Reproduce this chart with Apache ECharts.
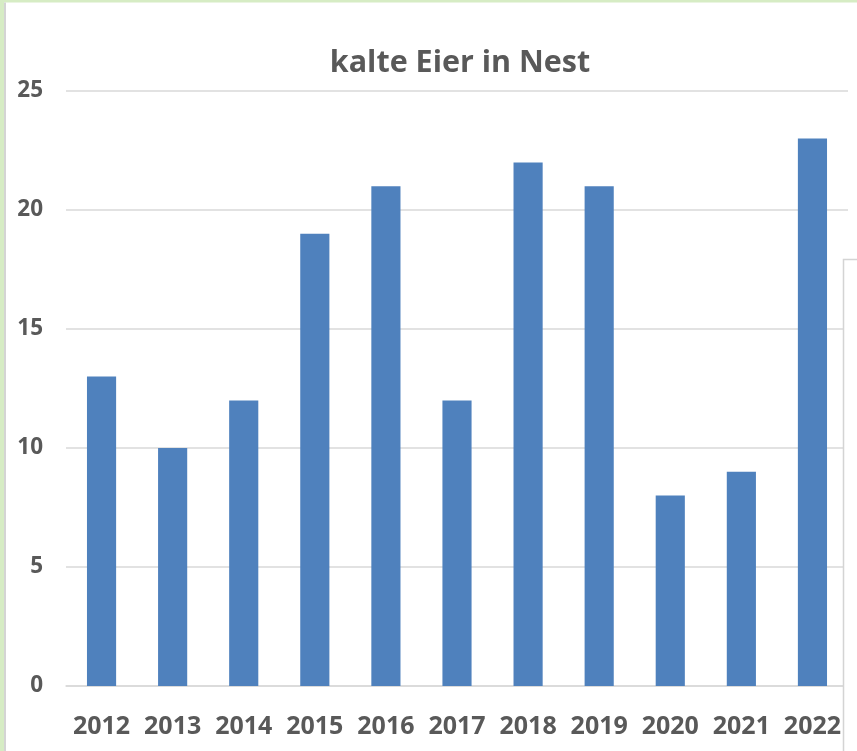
<!DOCTYPE html>
<html>
<head>
<meta charset="utf-8">
<script src="https://cdn.jsdelivr.net/npm/echarts@6/dist/echarts.min.js"></script>
<style>
  html, body { margin: 0; padding: 0; background: #fff; }
  #chart { width: 857px; height: 751px; }
</style>
</head>
<body>
<div id="chart"></div>
<script>
const years = ["2012", "2013", "2014", "2015", "2016", "2017", "2018", "2019", "2020", "2021", "2022"];
const coldEggs = [13, 10, 12, 19, 21, 12, 22, 21, 8, 9, 23];
const yTicks = [0, 5, 10, 15, 20, 25];

const chart = echarts.init(document.getElementById("chart"));
const textColor = "#595959";
const lineColor = "#d9d9d9";

chart.setOption({
  backgroundColor: "#ffffff",
  animation: false,
  title: {
    text: "kalte Eier in Nest",
    left: 455,
    textAlign: "center",
    top: 43,
    textStyle: { fontFamily: "Open Sans", fontWeight: "bold", fontSize: 30.5, color: textColor }
  },
  grid: { left: 66, right: 9, top: 91, bottom: 65 },
  xAxis: {
    type: "category",
    data: years,
    axisLine: { lineStyle: { color: lineColor, width: 1.5 } },
    axisTick: { length: 8, lineStyle: { color: lineColor, width: 1.5 } },
    axisLabel: {
      interval: 0,
      hideOverlap: false,
      margin: 28,
      color: textColor,
      fontFamily: "Open Sans",
      fontWeight: "bold",
      fontSize: 25
    }
  },
  yAxis: {
    type: "value",
    min: yTicks[0],
    max: yTicks[yTicks.length - 1],
    interval: 5,
    axisLine: { show: false },
    axisTick: { show: false },
    splitLine: { lineStyle: { color: lineColor, width: 1.5 } },
    axisLabel: {
      margin: 23,
      color: textColor,
      fontFamily: "Open Sans",
      fontWeight: "bold",
      fontSize: 22.5
    }
  },
  series: [{
    type: "bar",
    data: coldEggs,
    barWidth: "41%",
    itemStyle: { color: "#4f81bd" }
  }],
  graphic: [
    { type: "rect", shape: { x: 0, y: 0, width: 857, height: 2.5 }, style: { fill: "#d6ecc4" }, z: 100 },
    { type: "rect", shape: { x: 0, y: 0, width: 4, height: 751 }, style: { fill: "#d6ecc4" }, z: 100 },
    { type: "rect", shape: { x: 4, y: 2.5, width: 2, height: 751 }, style: { fill: "#d4d4d4" }, z: 100 },
    { type: "rect", shape: { x: 843.5, y: 259.5, width: 30, height: 600 },
      style: { fill: "#ffffff", stroke: "#d4d4d4", lineWidth: 1.5 }, z: 100 }
  ]
});
</script>
</body>
</html>
